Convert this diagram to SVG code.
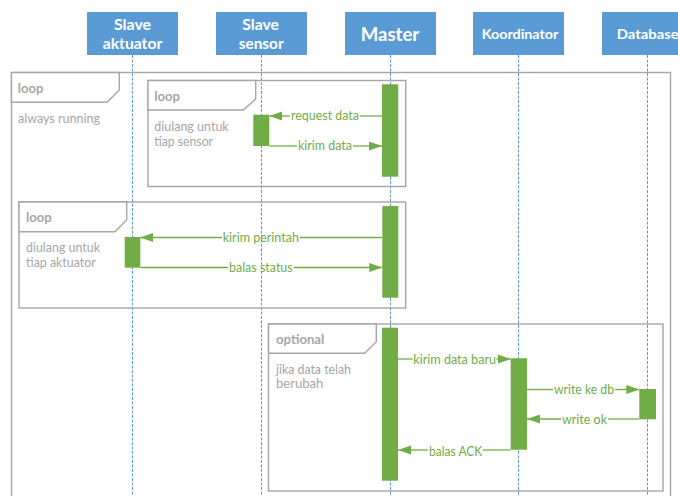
<svg xmlns="http://www.w3.org/2000/svg" width="678" height="496" viewBox="0 0 678 496">
  <style>
    .hdr { fill: #5b9bd5; }
    .hdr-t { fill: #ffffff; font-family: Lato, "Open Sans", "Liberation Sans", sans-serif; font-weight: bold; }
    .life { stroke: #5b9bd5; stroke-width: 1; stroke-dasharray: 3 1.5; fill: none; }
    .frame { fill: none; stroke: #a6a6a6; stroke-width: 1.4; }
    .tab { fill: #ffffff; stroke: #a6a6a6; stroke-width: 1.4; }
    .ftitle { fill: #a6a6a6; font-family: Lato, "Open Sans", "Liberation Sans", sans-serif; font-weight: bold; font-size: 12.5px; }
    .fnote { fill: #a6a6a6; font-family: Lato, "Open Sans", "Liberation Sans", sans-serif; font-size: 12.5px; }
    .act { fill: #70ad47; }
    .msg { stroke: #70ad47; stroke-width: 1.3; fill: none; }
    .lbl { fill: #70ad47; font-family: Lato, "Open Sans", "Liberation Sans", sans-serif; font-size: 13px; }
  </style>
  <defs>
    <marker id="head" markerUnits="userSpaceOnUse" markerWidth="14" markerHeight="10" refX="13" refY="5" orient="auto">
      <path d="M0,0.5 L13,5 L0,9.5 Z" fill="#70ad47"/>
    </marker>
  </defs>
  <rect width="678" height="496" fill="#ffffff"/>

  <!-- lifelines -->
  <g id="lifelines">
    <line class="life" x1="132.5" y1="55" x2="132.5" y2="496"/>
    <line class="life" x1="261.5" y1="55" x2="261.5" y2="496"/>
    <line class="life" x1="390.5" y1="55" x2="390.5" y2="496"/>
    <line class="life" x1="518.5" y1="55" x2="518.5" y2="496"/>
    <line class="life" x1="647.5" y1="55" x2="647.5" y2="496"/>
  </g>

  <!-- participants -->
  <g id="slave-aktuator">
    <rect class="hdr" x="87" y="12" width="91" height="43"/>
    <text class="hdr-t" x="114" y="29.5" font-size="15" textLength="37" lengthAdjust="spacingAndGlyphs">Slave</text>
    <text class="hdr-t" x="102.7" y="48.5" font-size="15" textLength="59.6" lengthAdjust="spacingAndGlyphs">aktuator</text>
  </g>
  <g id="slave-sensor">
    <rect class="hdr" x="216" y="12" width="91" height="43"/>
    <text class="hdr-t" x="242.3" y="29.5" font-size="15" textLength="36.7" lengthAdjust="spacingAndGlyphs">Slave</text>
    <text class="hdr-t" x="238.7" y="48.5" font-size="15" textLength="45" lengthAdjust="spacingAndGlyphs">sensor</text>
  </g>
  <g id="master">
    <rect class="hdr" x="345" y="12" width="91" height="43"/>
    <text class="hdr-t" x="360.7" y="40.7" font-size="19" textLength="58.6" lengthAdjust="spacingAndGlyphs">Master</text>
  </g>
  <g id="koordinator">
    <rect class="hdr" x="473" y="12" width="91" height="43"/>
    <text class="hdr-t" x="481.7" y="38.7" font-size="13.5" textLength="76.6" lengthAdjust="spacingAndGlyphs">Koordinator</text>
  </g>
  <g id="database">
    <rect class="hdr" x="602" y="12" width="91" height="43"/>
    <text class="hdr-t" x="616.7" y="38.7" font-size="14" textLength="62" lengthAdjust="spacingAndGlyphs">Database</text>
  </g>

  <!-- combined fragments -->
  <g id="loop-always">
    <rect class="frame" x="11.5" y="72.5" width="659" height="430"/>
    <path class="tab" d="M11.5,72.5 H119.3 V90 L107,102.3 H11.5 Z"/>
    <text class="ftitle" x="17.7" y="93" textLength="25.6" lengthAdjust="spacingAndGlyphs">loop</text>
    <text class="fnote" x="18" y="123" textLength="82" lengthAdjust="spacingAndGlyphs">always running</text>
  </g>
  <g id="loop-sensor">
    <rect class="frame" x="148" y="80.5" width="257.7" height="106"/>
    <path class="tab" d="M148,80.5 H255.7 V99 L243.3,110 H148 Z"/>
    <text class="ftitle" x="154.3" y="101" textLength="25.7" lengthAdjust="spacingAndGlyphs">loop</text>
    <text class="fnote" x="154.3" y="130.5" textLength="74.4" lengthAdjust="spacingAndGlyphs">diulang untuk</text>
    <text class="fnote" x="154.3" y="145.5" textLength="58.7" lengthAdjust="spacingAndGlyphs">tiap sensor</text>
  </g>
  <g id="loop-aktuator">
    <rect class="frame" x="19" y="202" width="386.7" height="106"/>
    <path class="tab" d="M19,202 H126.7 V220 L115,231.7 H19 Z"/>
    <text class="ftitle" x="26" y="222" textLength="25.7" lengthAdjust="spacingAndGlyphs">loop</text>
    <text class="fnote" x="26" y="252" textLength="74" lengthAdjust="spacingAndGlyphs">diulang untuk</text>
    <text class="fnote" x="26" y="267" textLength="69.7" lengthAdjust="spacingAndGlyphs">tiap aktuator</text>
  </g>
  <g id="opt-changed">
    <rect class="frame" x="268.5" y="324" width="394.5" height="167"/>
    <path class="tab" d="M268.5,324 H376.3 V341.7 L364.7,353.3 H268.5 Z"/>
    <text class="ftitle" x="276" y="343.5" textLength="48.3" lengthAdjust="spacingAndGlyphs">optional</text>
    <text class="fnote" x="276" y="373.5" textLength="75" lengthAdjust="spacingAndGlyphs">jika data telah</text>
    <text class="fnote" x="276" y="388" textLength="47.3" lengthAdjust="spacingAndGlyphs">berubah</text>
  </g>

  <!-- activations -->
  <g id="activations">
    <rect class="act" x="382" y="84.3" width="16.3" height="92.4"/>
    <rect class="act" x="253.3" y="114.7" width="16" height="31.3"/>
    <rect class="act" x="382.3" y="206" width="16" height="91.7"/>
    <rect class="act" x="124.7" y="237" width="15.6" height="30.7"/>
    <rect class="act" x="382" y="327.7" width="16" height="153"/>
    <rect class="act" x="510.7" y="358.3" width="16.3" height="91.4"/>
    <rect class="act" x="639.3" y="389" width="16.7" height="30.3"/>
  </g>

  <!-- messages -->
  <g id="connectors">
    <path class="msg" d="M382,116 H360"/>
    <path class="msg" d="M290,116 H269.3" marker-end="url(#head)"/>
    <text class="lbl" x="291" y="120" textLength="68" lengthAdjust="spacingAndGlyphs">request data</text>

    <path class="msg" d="M269.3,146 H297"/>
    <path class="msg" d="M353,146 H382" marker-end="url(#head)"/>
    <text class="lbl" x="298" y="150" textLength="54" lengthAdjust="spacingAndGlyphs">kirim data</text>

    <path class="msg" d="M382.3,237.5 H300"/>
    <path class="msg" d="M222,237.5 H140.3" marker-end="url(#head)"/>
    <text class="lbl" x="222.7" y="242" textLength="76.3" lengthAdjust="spacingAndGlyphs">kirim perintah</text>

    <path class="msg" d="M140.3,267.5 H228"/>
    <path class="msg" d="M293.5,267.5 H382.3" marker-end="url(#head)"/>
    <text class="lbl" x="229" y="272" textLength="63.7" lengthAdjust="spacingAndGlyphs">balas status</text>

    <path class="msg" d="M398,359 H412.5"/>
    <path class="msg" d="M496.5,359 H510.7" marker-end="url(#head)"/>
    <text class="lbl" x="413.3" y="363.5" textLength="82.7" lengthAdjust="spacingAndGlyphs">kirim data baru</text>

    <path class="msg" d="M527,389.5 H553"/>
    <path class="msg" d="M615,389.5 H639.3" marker-end="url(#head)"/>
    <text class="lbl" x="554" y="394" textLength="60" lengthAdjust="spacingAndGlyphs">write ke db</text>

    <path class="msg" d="M639.3,419 H608"/>
    <path class="msg" d="M561,419 H527" marker-end="url(#head)"/>
    <text class="lbl" x="562" y="423.5" textLength="45" lengthAdjust="spacingAndGlyphs">write ok</text>

    <path class="msg" d="M510.7,450 H483"/>
    <path class="msg" d="M428,450 H398" marker-end="url(#head)"/>
    <text class="lbl" x="429" y="455.5" textLength="53.3" lengthAdjust="spacingAndGlyphs">balas ACK</text>
  </g>
</svg>
